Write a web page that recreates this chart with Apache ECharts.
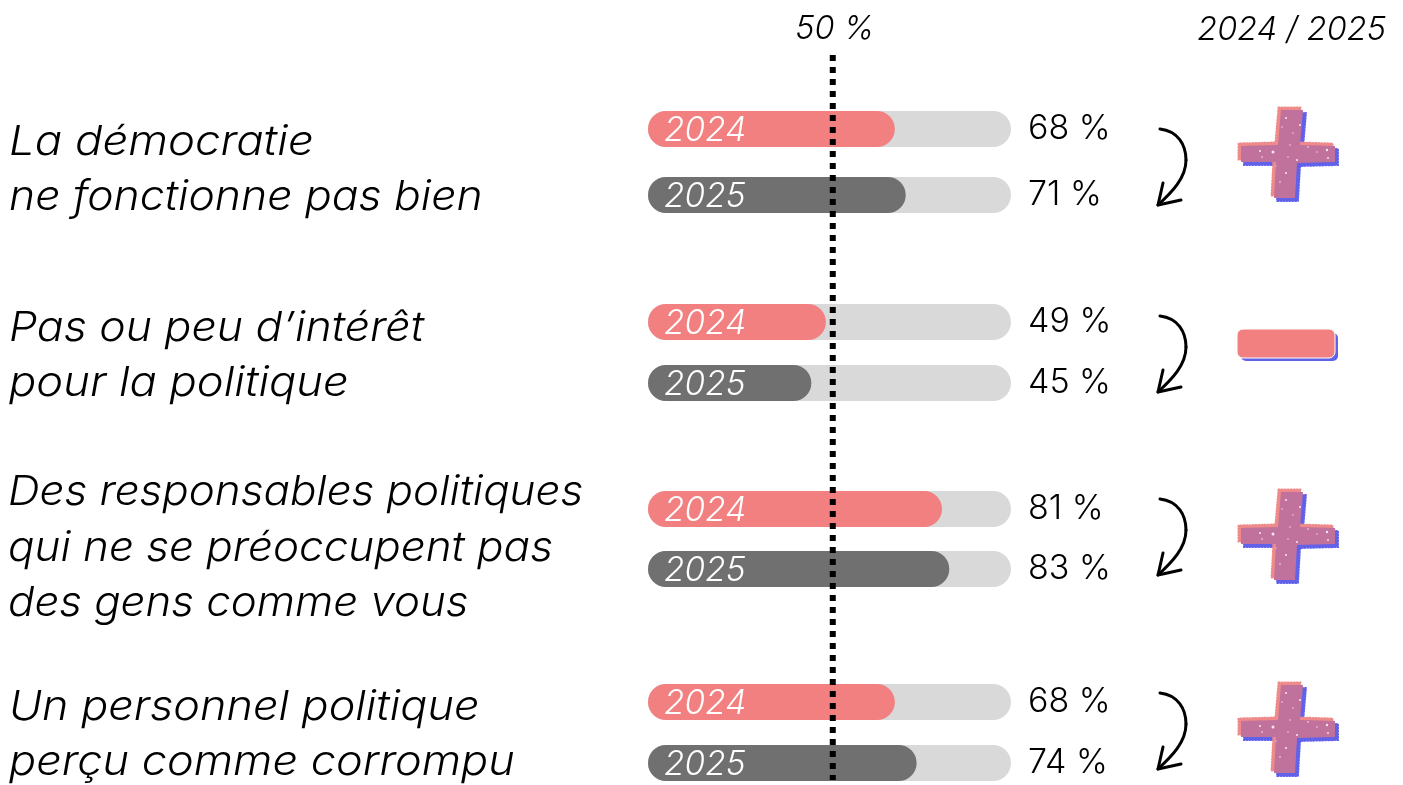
<!DOCTYPE html>
<html><head><meta charset="utf-8">
<style>html,body{margin:0;padding:0;background:#fff}#c{width:1403px;height:785px}</style>
<script src="https://cdn.jsdelivr.net/npm/echarts@6/dist/echarts.min.js"></script>
</head><body><div id="c"></div>
<script>
const years = ['2024', '2025'];
const rowLabels = [
  ['La démocratie', 'ne fonctionne pas bien'],
  ['Pas ou peu d’intérêt', 'pour la politique'],
  ['Des responsables politiques', 'qui ne se préoccupent pas', 'des gens comme vous'],
  ['Un personnel politique', 'perçu comme corrompu']
];
const values2024 = [68, 49, 81, 68];
const values2025 = [71, 45, 83, 74];
const trend = ['+', '-', '+', '+'];
const referenceValue = [50.9];
const referenceLabel = '50 %';
const compareLabel = '2024 / 2025';

const FONT = 'Inter';
const W = 300;
const rowLayout = [
  {a: 129, b: 195, text: 122, arrow: 0, sign: 0, scale: [1.111, 1.085], lx: 9},
  {a: 322, b: 383, text: 308, arrow: 187, sign: 0, scale: [1.088, 1.105], lx: 9},
  {a: 509, b: 569, text: 472.5, arrow: 370, sign: 382, scale: [1.072, 1.073, 1.069], lx: 8},
  {a: 702, b: 763, text: 687, arrow: 564, sign: 575, scale: [1.097, 1.100], lx: 9}
];
const L = 648, BW = 363, LH = 55.5;
const grids = [], xAxes = [], yAxes = [], series = [], graphics = [];

rowLayout.forEach((r, i) => {
  const gap = r.b - r.a;
  grids.push({left: L, width: BW, top: r.a - gap / 2, height: gap * 2, outerBoundsMode: 'none'});
  xAxes.push({gridIndex: i, type: 'value', min: 0, max: 100, show: false});
  const vals = [values2024[i], values2025[i]];
  yAxes.push({gridIndex: i, type: 'category', inverse: true, data: years, show: false});
  yAxes.push({gridIndex: i, type: 'category', inverse: true, position: 'right',
    data: vals.map(v => v + ' %'),
    axisLine: {show: false}, axisTick: {show: false},
    axisLabel: {margin: 17, color: '#000', fontFamily: FONT, fontWeight: W, fontSize: 34, padding: [4, 0, 0, 0]}});
  series.push({
    type: 'bar', xAxisIndex: i, yAxisIndex: i * 2, barWidth: 36, z: 2,
    showBackground: true,
    backgroundStyle: {color: '#d9d9d9', borderRadius: 18},
    data: vals.map((v, k) => ({value: v, itemStyle: {color: k ? '#707070' : '#f28080', borderRadius: 18}})),
    label: {show: true, position: 'insideLeft', distance: 16, offset: [0, 2], formatter: p => p.name,
      color: '#fff', fontFamily: FONT, fontWeight: W, fontStyle: 'italic', fontSize: 33.5},
    silent: true
  });
  rowLabels[i].forEach((line, k) => {
    graphics.push({type: 'text', silent: true, x: r.lx, y: r.text + k * LH, scaleX: r.scale[k],
      style: {text: line, fill: '#000', fontFamily: FONT, fontWeight: W, fontStyle: 'italic',
        fontSize: 41, textVerticalAlign: 'top'}});
  });
});

/* overlay grid for the reference line */
const ov = rowLayout.length;
grids.push({left: L, width: BW, top: 55, height: 725, outerBoundsMode: 'none'});
xAxes.push({gridIndex: ov, type: 'value', min: 0, max: 100, show: false});
yAxes.push({gridIndex: ov, type: 'value', min: 0, max: 1, show: false});
series.push({
  type: 'line', xAxisIndex: ov, yAxisIndex: rowLayout.length * 2, z: 10, symbol: 'none', silent: true,
  lineStyle: {color: '#000', width: 6, type: [6, 6]},
  data: [[referenceValue[0], 1], [referenceValue[0], 0]],
  markPoint: {symbol: 'circle', symbolSize: 0, silent: true, data: [{coord: [referenceValue[0], 1],
    label: {show: true, position: 'inside', formatter: referenceLabel, offset: [2, -26], color: '#000', fontFamily: FONT,
      fontWeight: W, fontStyle: 'italic', fontSize: 32.5}}]}
});
graphics.push({type: 'text', silent: true, x: 1386, y: 14,
  style: {text: compareLabel, fill: '#000', fontFamily: FONT, fontWeight: W, fontStyle: 'italic',
    fontSize: 32.5, textAlign: 'right', textVerticalAlign: 'top'}});

/* decorative hand-drawn arrows and trend signs */
const plusPts = (dx, dy) => [[1281,110],[1303,110],[1300,145],[1335,146],[1335,162],[1297,163],[1295,198],[1274,198],[1276,162],[1241,162],[1241,146],[1278,145]]
  .map(p => [p[0] + dx, p[1] + dy]);
const speckles = [[1273,152,1.5],[1327,150,1.2],[1286,118,1],[1300,125,1],[1260,151,1],[1308,147,0.8],[1286,173,1],[1280,182,0.8],[1297,160,1],[1328,158,0.9],[1293,133,0.7],[1288,157,0.7],[1262,157,0.8],[1317,152,0.7],[1282,127,0.7],[1290,145,0.7],[1276,166,0.6]];
const arrowStroke = {fill: null, stroke: '#000', lineWidth: 3, lineCap: 'round', lineJoin: 'round'};

rowLayout.forEach((r, i) => {
  const d = r.arrow;
  graphics.push({type: 'bezierCurve', silent: true,
    shape: {x1: 1160, y1: 129 + d, cpx1: 1178, cpy1: 131 + d, cpx2: 1186, cpy2: 145 + d, x2: 1186, y2: 160 + d},
    style: arrowStroke});
  graphics.push({type: 'bezierCurve', silent: true,
    shape: {x1: 1186, y1: 160 + d, cpx1: 1186, cpy1: 178 + d, cpx2: 1172, cpy2: 192 + d, x2: 1158, y2: 205 + d},
    style: arrowStroke});
  graphics.push({type: 'polyline', silent: true,
    shape: {points: [[1163, 183 + d], [1158, 205 + d], [1181, 200 + d]]}, style: arrowStroke});
  if (trend[i] === '+') {
    const rough = c => ({fill: c, stroke: c, lineWidth: 2, lineCap: 'round', lineDash: [1, 2]});
    graphics.push({type: 'polygon', silent: true, shape: {points: plusPts(3, 3 + r.sign)}, style: rough('#6161ea')});
    graphics.push({type: 'polygon', silent: true, shape: {points: plusPts(-2.5, -2.5 + r.sign)}, style: rough('#ef8a8a')});
    graphics.push({type: 'polygon', silent: true, shape: {points: plusPts(0, r.sign)}, style: {fill: '#c0719c'}});
    speckles.forEach(s => graphics.push({type: 'circle', silent: true,
      shape: {cx: s[0], cy: s[1] + r.sign, r: s[2]}, style: {fill: '#fff', opacity: 0.85}}));
  } else {
    graphics.push({type: 'rect', silent: true, shape: {x: 1241, y: 333, width: 97, height: 28, r: 5}, style: {fill: '#6161ea'}});
    graphics.push({type: 'rect', silent: true, shape: {x: 1237, y: 329, width: 98, height: 29, r: 6},
      style: {fill: '#f28080', stroke: '#fff', lineWidth: 1}});
  }
});

const chart = echarts.init(document.getElementById('c'), null, {renderer: 'canvas'});
chart.setOption({
  animation: false, backgroundColor: '#fff',
  grid: grids, xAxis: xAxes, yAxis: yAxes, series,
  graphic: graphics
});
</script></body></html>
